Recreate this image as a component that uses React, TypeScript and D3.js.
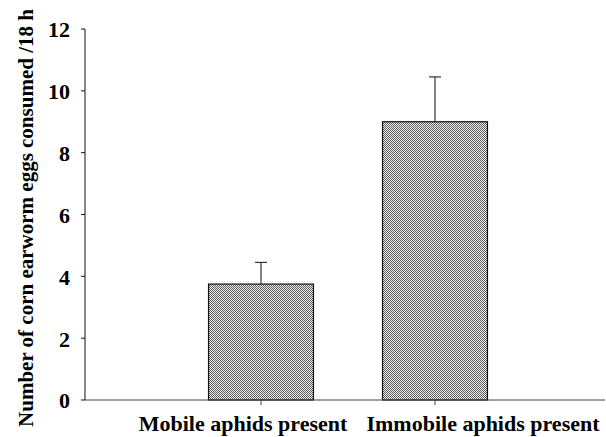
import React from "react";
import * as d3 from "d3";

const categories = ["Mobile aphids present", "Immobile aphids present"];
const means = [3.75, 9.0];
const errors = [0.7, 1.45];
const yTicks = [0, 2, 4, 6, 8, 10, 12];

const W = 606;
const H = 437;
const font = "Liberation Serif, DejaVu Serif, Times New Roman, serif";

const App = () => {
  const x0 = 85;
  const y0 = 400;

  const y = d3.scaleLinear().domain([0, 12]).range([y0, 29]);
  const x = d3
    .scaleBand()
    .domain(categories)
    .range([x0, 611])
    .paddingInner(0.397)
    .paddingOuter(0.71);

  // label centres sit a little off the ticks in the original
  const labelShift = [-18, 48];
  const txt = { fontFamily: font, fontWeight: 700 };

  return (
    <svg
      width={W}
      height={H}
      style={{ position: "absolute", left: 0, top: 0, background: "#fff" }}
    >
      <defs>
        <pattern id="dots" width="2" height="2" patternUnits="userSpaceOnUse">
          <rect width="2" height="2" fill="#f2f2f2" />
          <rect width="1" height="1" fill="#5a5a5a" />
          <rect x="1" y="1" width="1" height="1" fill="#5a5a5a" />
        </pattern>
      </defs>

      {/* bars */}
      {categories.map((c, i) => (
        <rect
          key={c}
          x={x(c)}
          y={y(means[i])}
          width={x.bandwidth()}
          height={y0 - y(means[i])}
          fill="url(#dots)"
          stroke="#111"
          strokeWidth={1.2}
        />
      ))}

      {/* error bars */}
      {categories.map((c, i) => {
        const cx = (x(c) ?? 0) + x.bandwidth() / 2;
        const top = y(means[i] + errors[i]);
        return (
          <g key={c} stroke="#333" strokeWidth={1.2}>
            <line x1={cx} x2={cx} y1={y(means[i])} y2={top} />
            <line x1={cx - 6} x2={cx + 6} y1={top} y2={top} />
          </g>
        );
      })}

      {/* y axis */}
      <line x1={x0} x2={x0} y1={y(12)} y2={y0} stroke="#111" strokeWidth={1} />
      {yTicks.map((t) => (
        <g key={t}>
          <line x1={x0 - 4} x2={x0} y1={y(t)} y2={y(t)} stroke="#111" />
          <text
            x={70}
            y={y(t)}
            dy="0.38em"
            textAnchor="end"
            style={{ ...txt, fontSize: 22 }}
            fill="#000"
          >
            {t}
          </text>
        </g>
      ))}

      {/* x axis */}
      <line x1={x0} x2={605} y1={y0} y2={y0} stroke="#444" strokeWidth={1} />
      {categories.map((c, i) => {
        const cx = (x(c) ?? 0) + x.bandwidth() / 2;
        return (
          <g key={c}>
            <line x1={cx} x2={cx} y1={y0} y2={y0 + 5} stroke="#444" />
            <text
              x={cx + labelShift[i]}
              y={431}
              textAnchor="middle"
              style={{ ...txt, fontSize: 22 }}
              fill="#000"
            >
              {c}
            </text>
          </g>
        );
      })}

      {/* y title */}
      <text
        transform={`translate(33,218) rotate(-90)`}
        textAnchor="middle"
        style={{ ...txt, fontSize: 21 }}
        fill="#000"
      >
        Number of corn earworm eggs consumed /18 h
      </text>
    </svg>
  );
};

export default App;
